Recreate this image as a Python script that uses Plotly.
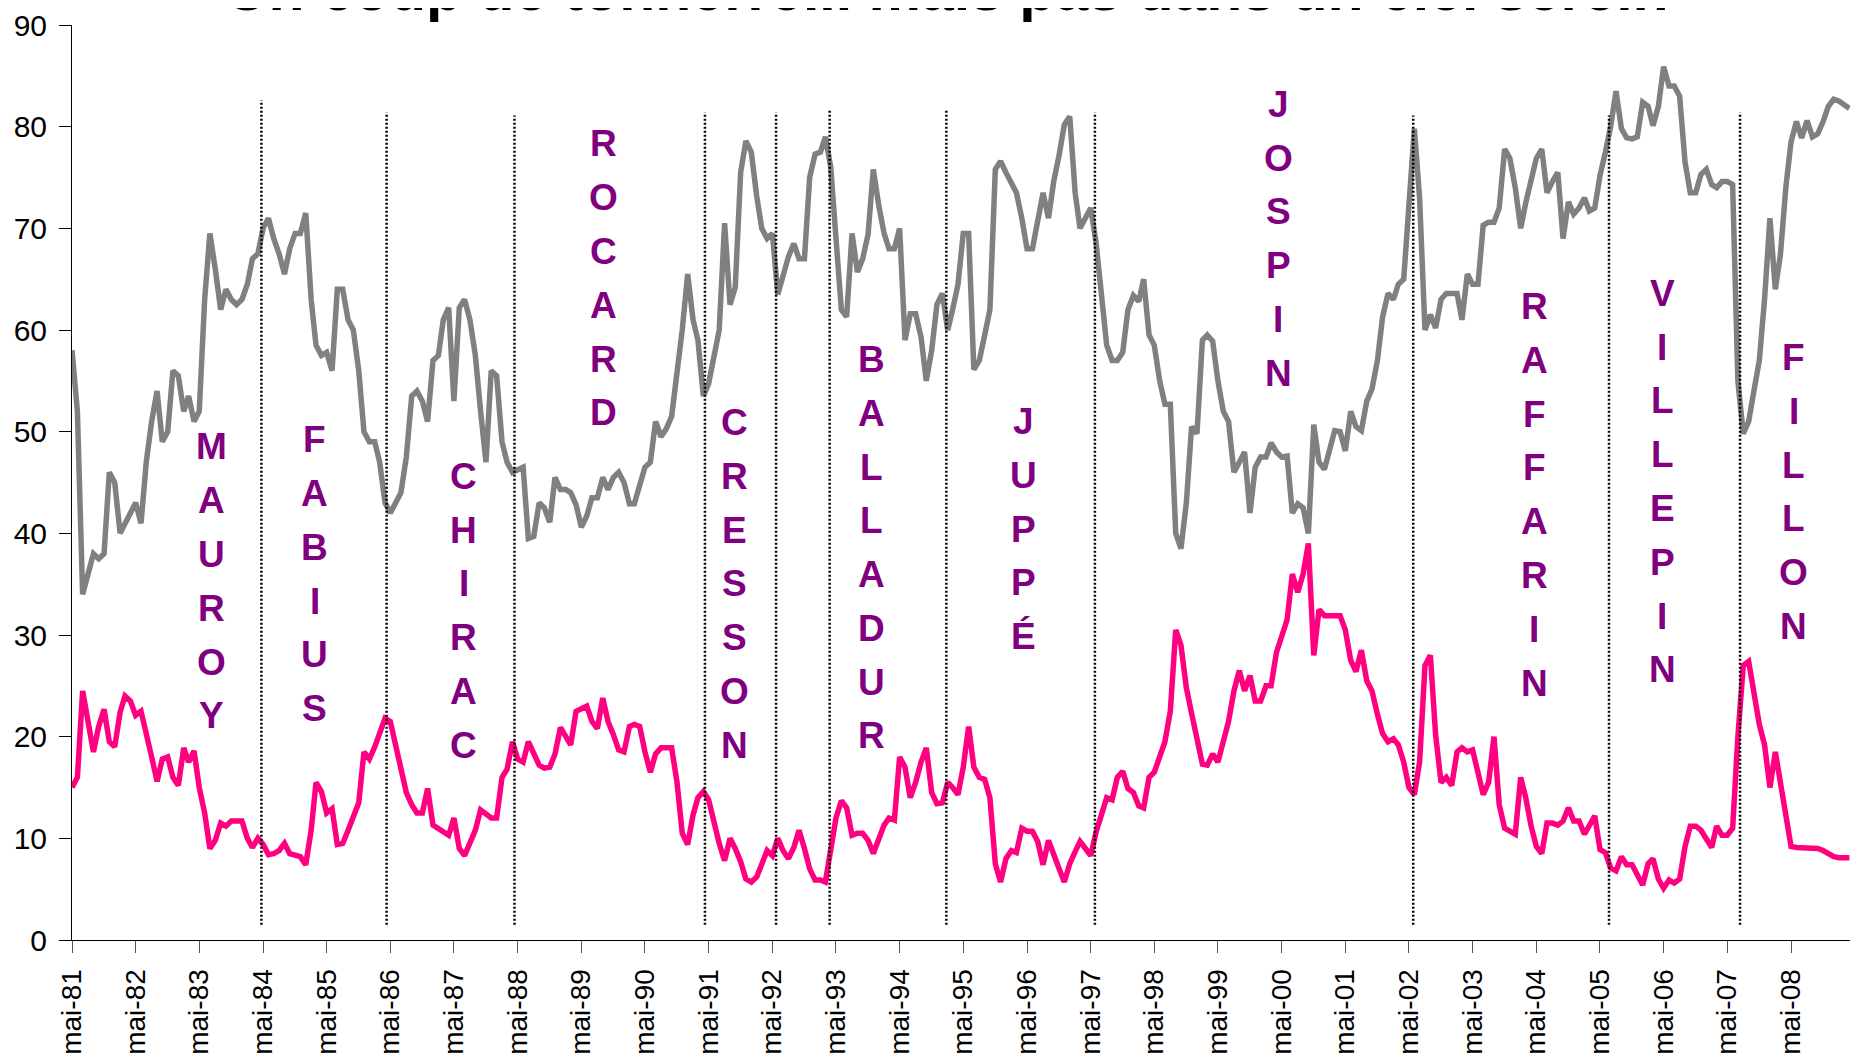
import pandas as pd
import plotly.graph_objects as go

START = "1981-05-01"

# Monthly series, mai-81 .. avr-09 (336 months)
gray = [
    58, 52, 34, 36, 38, 37.5, 38, 46, 45, 40,
    41, 42, 43, 41, 47, 51, 54, 49, 50, 56,
    55.5, 52, 53.5, 51, 52, 63, 69.5, 66, 62, 64,
    63, 62.5, 63, 64.5, 67, 67.5, 70, 71, 69, 67.5,
    65.5, 68, 69.5, 69.5, 71.5, 63, 58.5, 57.5, 57.8, 56,
    64, 64, 61, 60, 56, 50, 49, 49, 47, 43,
    42, 43, 44, 47.5, 53.5, 54, 53, 51, 57, 57.5,
    61, 62.2, 53, 62.2, 63, 61, 57.5, 52, 47, 56,
    55.5, 49, 47, 46, 46.2, 46.5, 39.5, 39.7, 43, 42.5,
    41.1, 45.5, 44.3, 44.3, 44, 42.8, 40.6, 41.7, 43.5, 43.5,
    45.5, 44.3, 45.5, 46, 45, 42.9, 42.9, 45, 46.5, 47,
    51, 49.5, 50.3, 51.5, 55.6, 60, 65.5, 61, 59, 53.5,
    54.7, 57.5, 60, 70.5, 62.5, 64.2, 75.5, 78.6, 77.5, 73.2,
    70, 69, 69.5, 63.5, 65.5, 67.2, 68.5, 67, 67, 75,
    77.3, 77.5, 79, 76, 69, 62, 61.3, 69.5, 65.7, 67,
    69.4, 75.8, 72.3, 69.5, 68, 68, 70, 59, 61.6, 61.6,
    59.3, 55, 58, 62.5, 63.6, 60, 62, 64.5, 69.5, 69.5,
    56.1, 57, 59.5, 62, 75.8, 76.6, 75.5, 74.6, 73.5, 71,
    68, 68, 70.9, 73.5, 71, 74.6, 77.2, 80.2, 81, 73.5,
    70, 70.9, 72, 68.6, 63, 58.5, 57, 57, 57.8, 62,
    63.4, 62.8, 65, 59.5, 58.5, 55, 52.7, 52.7, 40, 38.5,
    43, 50.5, 49.8, 59, 59.5, 58.9, 55, 52, 51, 46,
    47, 48, 42, 46.5, 47.5, 47.5, 48.9, 48, 47.5, 47.6,
    42, 42.9, 42.5, 40, 50.7, 47, 46.3, 48.1, 50.1, 50,
    48.1, 52, 50.5, 50.1, 53, 54.2, 57, 61.3, 63.6, 63,
    64.5, 65, 73, 79.8, 73, 60, 61.5, 60.2, 63, 63.6,
    63.6, 63.6, 61, 65.5, 64.5, 64.5, 70.3, 70.6, 70.6, 72,
    77.8, 76.9, 74, 70, 72.5, 74.9, 76.9, 77.8, 73.5, 74.6,
    75.5, 69, 72.6, 71.4, 72, 73, 71.7, 72, 75.2, 77.5,
    80, 83.5, 79.8, 78.9, 78.8, 79, 82.4, 82, 80.1, 82,
    85.9, 84, 84, 83, 76.5, 73.5, 73.5, 75.3, 75.8, 74.3,
    74, 74.6, 74.6, 74.3, 55, 49.8, 51, 54, 57, 63,
    71, 64, 67.4, 74, 78.5, 80.5, 78.9, 80.6, 79, 79.3,
    80.5, 82, 82.7, 82.5, 82.2, 81.8,
]

pink = [
    15, 16, 24.5, 21.3, 18.5, 21, 22.7, 19.5, 19, 22.4,
    24, 23.5, 22.1, 22.5, 20.5, 18, 15.6, 17.8, 18, 16,
    15.2, 18.9, 17.5, 18.6, 15, 12.5, 9, 9.8, 11.5, 11.2,
    11.7, 11.7, 11.7, 10, 9.1, 10, 9.4, 8.4, 8.5, 8.8,
    9.5, 8.5, 8.3, 8.2, 7.4, 10.8, 15.5, 14.6, 12.5, 12.9,
    9.4, 9.5, 10.8, 12.3, 13.5, 18.5, 17.8, 19, 20.5, 21.8,
    21.5, 19, 16.5, 14.5, 13.3, 12.5, 12.5, 14.9, 11.3, 11,
    10.7, 10.3, 12, 9, 8.3, 9.5, 10.8, 12.8, 12.3, 12,
    12, 16, 16.8, 19.5, 17.8, 17.5, 19.5, 18.3, 17.2, 16.9,
    17, 18.3, 20.9, 20, 19.2, 22.5, 22.7, 23, 21.5, 20.8,
    23.8, 21.5, 20.2, 18.7, 18.5, 21, 21.2, 21, 18.5, 16.5,
    18.3, 18.9, 18.9, 18.9, 15.5, 10.5, 9.4, 12.3, 14, 14.6,
    13.8, 11.5, 9.5, 7.8, 10, 9, 7.7, 6, 5.7, 6.2,
    7.5, 8.8, 8.3, 10, 8.8, 8, 9.1, 10.8, 9, 7,
    5.9, 5.9, 5.7, 9, 12, 13.7, 13, 10.3, 10.5, 10.5,
    9.8, 8.5, 9.8, 11.3, 12, 11.8, 18, 17, 14, 15.5,
    17.5, 18.9, 14.5, 13.4, 13.5, 15.5, 15, 14.3, 17, 21,
    17, 16, 15.8, 14, 7.5, 5.7, 8, 8.8, 8.6, 11,
    10.7, 10.7, 9.7, 7.4, 9.8, 8.3, 7, 5.7, 7.5, 8.7,
    9.7, 9, 8.3, 10.6, 12.5, 14, 13.8, 16, 16.6, 14.9,
    14.5, 13.2, 13, 16, 16.5, 18, 19.5, 22.5, 30.5, 29,
    24.8, 22.3, 19.5, 17.3, 17.2, 18.3, 17.5, 19.5, 21.5, 24.5,
    26.5, 24.5, 26, 23.5, 23.5, 25, 25, 28.3, 29.8, 31.5,
    36, 34.2, 36, 39, 28, 32.5, 31.9, 31.9, 31.9, 31.9,
    30.5, 27.5, 26.4, 28.5, 25.5, 24.5, 22.2, 20.3, 19.5, 19.8,
    19.2, 17.5, 15, 14.3, 17.5, 27, 28, 20.2, 15.5, 16,
    15.2, 18.5, 18.9, 18.5, 18.7, 16.5, 14.3, 15.5, 20, 13.3,
    11, 10.7, 10.4, 16, 14, 11.2, 9.2, 8.5, 11.5, 11.5,
    11.3, 11.7, 13, 11.7, 11.7, 10.4, 11.2, 12.2, 8.9, 8.6,
    7.1, 6.8, 8.2, 7.4, 7.4, 6.3, 5.4, 7.5, 8, 6,
    5.1, 5.9, 5.6, 6, 9.2, 11.2, 11.2, 10.8, 10, 9.1,
    11.2, 10.3, 10.3, 11, 20, 27, 27.4, 24, 21.2, 19.2,
    15, 18.5, 15.5, 12.8, 9.2, 9.1, 9.1, 9.1, 9.1, 9,
    8.8, 8.5, 8.2, 8.1, 8.1, 8.1,
]

tick_years = list(range(1981, 2009))
tick_text = ["mai-%02d" % (y % 100) for y in tick_years]

# Prime ministers: label position (months after mai-81) and value of first letter
pm_names = ["MAUROY", "FABIUS", "CHIRAC", "ROCARD", "CRESSON", "BALLADUR",
            "JUPPÉ", "JOSPIN", "RAFFARIN", "VILLEPIN", "FILLON"]
pm_label_m = [26.3, 45.8, 73.8, 100.2, 124.8, 150.7, 179.3, 227.4, 275.6, 299.7, 324.5]
pm_label_top = [48.5, 49.2, 45.6, 78.3, 50.9, 57.1, 51.0, 82.2, 62.3, 63.6, 57.3]

# Government changes (months after mai-81), dotted separators
change_m = [35.7, 59.3, 83.4, 119.3, 132.7, 142.8, 164.8, 192.8, 252.8, 289.7, 314.4]
change_top = [82.6, 81.4, 81.1, 81.4, 81.4, 81.6, 81.6, 81.4, 81.1, 81.1, 81.4]
change_bottom = 1.5

TITLE = "Un coup de tonnerre... mais pas dans un ciel serein"

t0 = pd.Timestamp(START)


def mdate(m):
    return t0 + pd.Timedelta(days=m * 30.4375)


months = pd.date_range(START, periods=len(gray), freq="MS")
tick_vals = [pd.Timestamp("%d-05-01" % y) for y in tick_years]

ARIAL = "Liberation Sans, Arial, sans-serif"

fig = go.Figure()
fig.add_trace(go.Scatter(x=months, y=gray, mode="lines",
                         line=dict(color="#808080", width=5.5), showlegend=False))
fig.add_trace(go.Scatter(x=months, y=pink, mode="lines",
                         line=dict(color="#FF0080", width=5.5), showlegend=False))

for m, top in zip(change_m, change_top):
    fig.add_shape(type="line", xref="x", yref="y", x0=mdate(m), x1=mdate(m),
                  y0=change_bottom, y1=top, layer="above",
                  line=dict(color="black", width=2.5, dash="2px,2px"))

STEP = 5.29
for name, m, top in zip(pm_names, pm_label_m, pm_label_top):
    for i, ch in enumerate(name):
        fig.add_annotation(x=mdate(m), y=top - i * STEP, xref="x", yref="y",
                           text="<b>%s</b>" % ch, showarrow=False,
                           xanchor="center", yanchor="middle",
                           font=dict(family=ARIAL, size=37, color="#800080"))

fig.add_annotation(x=0.4921, y=1.0, xref="paper", yref="paper",
                   text="<b>%s</b>" % TITLE, showarrow=False,
                   xanchor="center", yanchor="bottom",
                   font=dict(family=ARIAL, size=59, color="black"))

end = mdate(335.5)
# the page body adds an 8px offset, so the figure is 8px smaller than the window
fig.update_layout(
    width=1850, height=1048,
    margin=dict(l=64, r=6, t=17, b=116, autoexpand=False),
    plot_bgcolor="white", paper_bgcolor="white",
    xaxis=dict(type="date", range=[t0, end], tickmode="array",
               tickvals=tick_vals, ticktext=tick_text, tickangle=-90,
               showline=True, linecolor="black", linewidth=1,
               ticks="outside", ticklen=12, tickcolor="#555",
               showgrid=False, zeroline=False, ticklabelstandoff=5,
               automargin=False,
               tickfont=dict(family=ARIAL, size=28, color="black")),
    yaxis=dict(range=[0, 90], tickmode="array", tickvals=list(range(0, 91, 10)),
               showline=True, linecolor="black", linewidth=1,
               ticks="outside", ticklen=12, tickcolor="black",
               showgrid=False, zeroline=False, ticklabelstandoff=6,
               automargin=False,
               tickfont=dict(family=ARIAL, size=30, color="black")),
)

fig.write_html("out.html")
